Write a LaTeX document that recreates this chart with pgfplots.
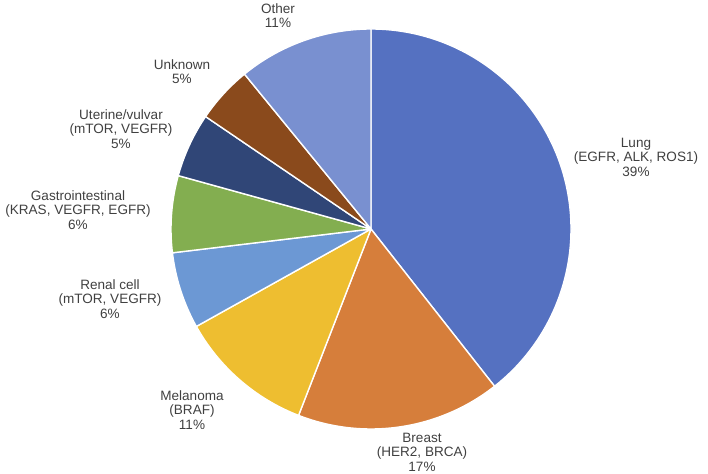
\documentclass[border=0pt]{standalone}
\usepackage{pgfplots}
\usepackage{pgfplotstable}
\pgfplotsset{compat=1.18}
\usepackage{fontspec}
\setmainfont{Liberation Sans}
\definecolor{lungc}{HTML}{5571C1}
\definecolor{breastc}{HTML}{D67E3B}
\definecolor{melc}{HTML}{EEBE30}
\definecolor{renc}{HTML}{6C98D4}
\definecolor{gic}{HTML}{83AE50}
\definecolor{utc}{HTML}{304677}
\definecolor{unkc}{HTML}{8A4A1C}
\definecolor{othc}{HTML}{7990D0}
\definecolor{txt}{HTML}{404040}
\pgfplotstableread{
pct color
39.4 lungc
16.5 breastc
11.0 melc
6.2 renc
6.2 gic
5.2 utc
4.6 unkc
10.9 othc
}\piedata
\tikzset{lbl/.style={font=\fontsize{13.6}{14.6}\selectfont, text=txt, align=center, inner sep=0pt}}
\begin{document}
\begin{tikzpicture}
\begin{axis}[
  scale only axis, width=708bp, height=474bp,
  xmin=0, xmax=708, ymin=0, ymax=474,
  hide axis, clip=false,
]
\def\cx{371}\def\cy{245}\def\R{200}
\gdef\cum{90}
\pgfplotsforeachungrouped \i in {0,...,7}{%
  \pgfplotstablegetelem{\i}{pct}\of\piedata \let\p\pgfplotsretval
  \pgfplotstablegetelem{\i}{color}\of\piedata \let\c\pgfplotsretval
  \pgfmathsetmacro\e{\cum-3.6*\p}%
  \pgfmathsetmacro\sx{\cx+\R*cos(\cum)}%
  \pgfmathsetmacro\sy{\cy+\R*sin(\cum)}%
  \edef\temp{\noexpand\fill[\c, draw=white, line width=1.4pt, line join=round] (axis cs:\cx,\cy) -- (axis cs:\sx,\sy) arc[start angle=\cum, end angle=\e, radius=\R] -- cycle;}%
  \temp
  \global\let\cum\e
}
\node[lbl] at (axis cs:636,317) {Lung\\(EGFR, ALK, ROS1)\\39\%};
\node[lbl] at (axis cs:422,22) {Breast\\(HER2, BRCA)\\17\%};
\node[lbl] at (axis cs:192,64) {Melanoma\\(BRAF)\\11\%};
\node[lbl] at (axis cs:110,175) {Renal cell\\(mTOR, VEGFR)\\6\%};
\node[lbl] at (axis cs:78,264) {Gastrointestinal\\(KRAS, VEGFR, EGFR)\\6\%};
\node[lbl] at (axis cs:121,345) {Uterine/vulvar\\(mTOR, VEGFR)\\5\%};
\node[lbl] at (axis cs:182,402.5) {Unknown\\5\%};
\node[lbl] at (axis cs:278,458.5) {Other\\11\%};
\end{axis}
\pgfresetboundingbox
\path[use as bounding box] (current axis.south west) rectangle (current axis.north east);
\end{tikzpicture}
\end{document}
